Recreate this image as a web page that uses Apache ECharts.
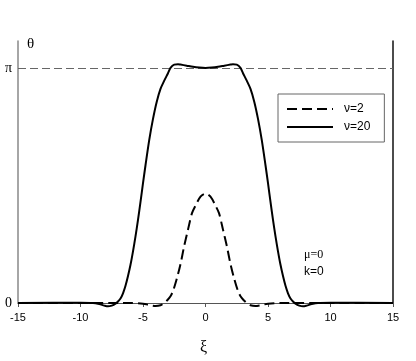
<!DOCTYPE html>
<html lang="en">
<head>
    <meta charset="UTF-8">
    <title>theta vs xi</title>
    <style>
        html, body { margin: 0; padding: 0; background: #fff; }
        #chart { width: 416px; height: 361px; }
    </style>
</head>
<body>
<div id="chart"></div>
<script src="https://cdn.jsdelivr.net/npm/echarts@6/dist/echarts.min.js"></script>
<script>
    // nu = 20 (solid)
    var xiNu20 = [-15, -10, -9, -8.5, -8.1, -7.8, -7.5, -7.2, -7, -6.8, -6.6, -6.4, -6.2, -6, -5.8, -5.6, -5.4, -5.2, -5, -4.8,
        -4.5, -4.2, -3.9, -3.6, -3.3, -3, -2.8, -2.5, -2.2, -2, -1.5, -1, -0.5, 0,
        0.5, 1, 1.5, 2, 2.2, 2.5, 2.8, 3, 3.3, 3.6, 3.9, 4.2, 4.5, 4.8, 5, 5.2, 5.4, 5.6, 5.8, 6, 6.2, 6.4,
        6.6, 6.8, 7, 7.2, 7.5, 7.8, 8.1, 8.5, 9, 10, 15];
    var thetaNu20 = [0, 0.003, 0, -0.015, -0.035, -0.045, -0.035, -0.01, 0.02, 0.06, 0.13, 0.23, 0.36, 0.51, 0.69, 0.89, 1.11, 1.35, 1.6, 1.84,
        2.18, 2.46, 2.69, 2.86, 2.97, 3.07, 3.14, 3.185, 3.19, 3.185, 3.17, 3.155, 3.145, 3.14,
        3.145, 3.155, 3.17, 3.185, 3.19, 3.185, 3.14, 3.07, 2.97, 2.86, 2.69, 2.46, 2.18, 1.84, 1.6, 1.35, 1.11, 0.89, 0.69, 0.51, 0.36, 0.23,
        0.13, 0.06, 0.02, -0.01, -0.035, -0.045, -0.035, -0.015, 0, 0.003, 0];

    // nu = 2 (dashed)
    var xiNu2 = [-15, -6, -5, -4.4, -4, -3.6, -3.3, -3.04, -2.8, -2.6, -2.32, -2, -1.72, -1.4, -1.08, -0.8, -0.4, 0,
        0.4, 0.8, 1.08, 1.4, 1.72, 2, 2.32, 2.6, 2.8, 3.04, 3.3, 3.6, 4, 4.4, 5, 6, 15];
    var thetaNu2 = [0, 0, -0.01, -0.03, -0.04, -0.03, 0, 0.04, 0.09, 0.16, 0.31, 0.52, 0.75, 0.98, 1.2, 1.3, 1.42, 1.46,
        1.42, 1.3, 1.2, 0.98, 0.75, 0.52, 0.31, 0.16, 0.09, 0.04, 0, -0.03, -0.04, -0.03, -0.01, 0, 0];

    var xiTicks = [-15, 15, 5];
    var piLevel = Math.PI;
    var seriesNames = ['\u03bd=2', '\u03bd=20'];

    function pairs(xs, ys) {
        return xs.map(function (x, i) { return [x, ys[i]]; });
    }

    var chart = echarts.init(document.getElementById('chart'));

    var option = {
        animation: false,
        grid: { left: 18, right: 23, top: 41, bottom: 58 },
        legend: {
            orient: 'vertical',
            left: 278,
            top: 94,
            padding: [9, 14, 9, 8],
            itemGap: 6,
            itemWidth: 46,
            itemHeight: 14,
            borderColor: '#666',
            borderWidth: 1,
            data: seriesNames,
            itemStyle: { opacity: 0 },
            textStyle: { fontFamily: 'Liberation Sans, Arial', fontSize: 12, color: '#000', padding: [0, 0, 0, 6] }
        },
        xAxis: {
            type: 'value',
            min: xiTicks[0],
            max: xiTicks[1],
            interval: xiTicks[2],
            axisLine: { onZero: true, lineStyle: { color: '#555', width: 1 } },
            axisTick: { show: true, length: 4, lineStyle: { color: '#555' } },
            axisLabel: { fontFamily: 'Liberation Sans, Arial', fontSize: 11, color: '#000', margin: 9 },
            splitLine: { show: false }
        },
        yAxis: [{
            type: 'value',
            min: 0,
            max: 3.5,
            interval: piLevel,
            axisLine: { show: true, onZero: false, lineStyle: { color: '#888', width: 1.5 } },
            axisTick: { show: false },
            axisLabel: {
                margin: 6,
                color: '#000',
                fontFamily: 'Liberation Serif, Times New Roman, serif',
                fontSize: 14,
                formatter: function (v) {
                    if (Math.abs(v) < 1e-9) return '0';
                    if (Math.abs(v - piLevel) < 1e-6) return '\u03c0';
                    return '';
                }
            },
            splitLine: { show: false }
        }, {
            type: 'value',
            position: 'right',
            min: 0,
            max: 3.5,
            axisLine: { show: true, onZero: false, lineStyle: { color: '#111', width: 1.5 } },
            axisTick: { show: false },
            axisLabel: { show: false },
            splitLine: { show: false }
        }],
        series: [
            {
                name: seriesNames[0],
                type: 'line',
                data: pairs(xiNu2, thetaNu2),
                showSymbol: false,
                symbol: 'none',
                smooth: 0.3,
                clip: false,
                lineStyle: { color: '#000', width: 2, type: [10, 5] },
                itemStyle: { color: '#000' },
                z: 3
            },
            {
                name: seriesNames[1],
                type: 'line',
                data: pairs(xiNu20, thetaNu20),
                showSymbol: false,
                symbol: 'none',
                smooth: 0.3,
                clip: false,
                lineStyle: { color: '#000', width: 2 },
                itemStyle: { color: '#000' },
                z: 3,
                markLine: {
                    silent: true,
                    symbol: 'none',
                    label: { show: false },
                    lineStyle: { color: '#666', width: 1, type: [8, 4] },
                    data: [{ yAxis: piLevel }],
                    z: 1
                }
            }
        ],
        graphic: [
            { type: 'text', left: 27, top: 37, style: { text: '\u03b8', font: '15px "Liberation Serif", serif', fill: '#000' } },
            { type: 'text', left: 200, top: 340, style: { text: '\u03be', font: '16px "Liberation Serif", serif', fill: '#000' } },
            { type: 'text', left: 304, top: 249, style: { text: '\u03bc=0', font: '12px "Liberation Serif", serif', fill: '#000' } },
            { type: 'text', left: 304, top: 266, style: { text: 'k=0', font: '12px "Liberation Sans", Arial', fill: '#000' } }
        ]
    };

    chart.setOption(option);
</script>
</body>
</html>
